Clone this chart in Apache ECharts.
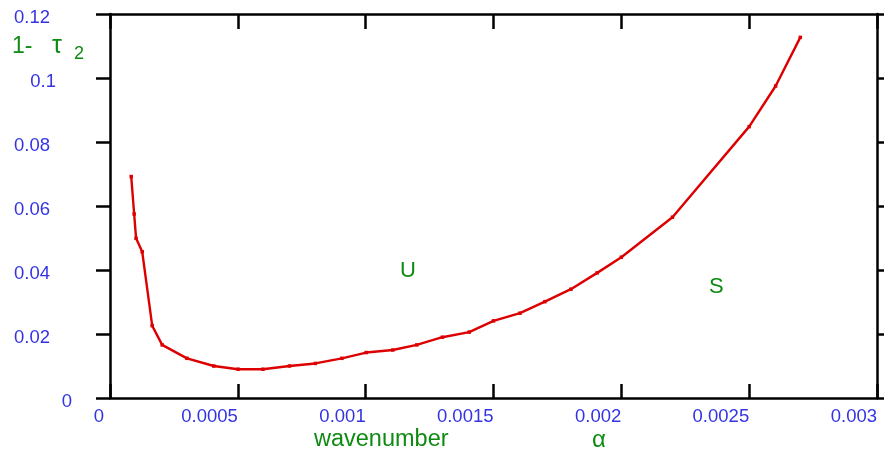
<!DOCTYPE html>
<html>
<head>
<meta charset="utf-8">
<script src="https://cdn.jsdelivr.net/npm/echarts@6/dist/echarts.min.js"></script>
<style>html,body{margin:0;padding:0;background:#fff}#c{width:884px;height:455px}</style>
</head>
<body>
<div id="c"></div>
<script>
// wavenumber alpha values
const alpha = [0.000083, 0.0000945, 0.000102, 0.000126, 0.000165, 0.000204, 0.000301, 0.000406,
  0.000501, 0.000598, 0.000702, 0.000803, 0.000907, 0.001002, 0.001106, 0.0012, 0.0013, 0.001405,
  0.0015, 0.0016035, 0.001701, 0.0018027, 0.0019055, 0.002, 0.0022, 0.0025, 0.0026035, 0.0027];
// 1 - tau_2 values
const oneMinusTau = [0.0692, 0.0575, 0.0499, 0.0457, 0.0226, 0.0166, 0.0124, 0.0100,
  0.0090, 0.0090, 0.0100, 0.0108, 0.0124, 0.0142, 0.0150, 0.0166, 0.0190, 0.0206,
  0.0241, 0.0265, 0.0301, 0.0340, 0.0391, 0.0440, 0.0565, 0.0848, 0.0975, 0.1127];
const xTickLabels = ['0', '0.0005', '0.001', '0.0015', '0.002', '0.0025', '0.003'];
const yTickLabels = ['0', '0.02', '0.04', '0.06', '0.08', '0.1', '0.12'];

const FONT = '"Liberation Sans", Arial, Helvetica, sans-serif';
const BLUE = '#3434e2';
const GREEN = '#0f8a12';
const RED = '#dd0000';

const points = alpha.map((a, i) => [a, oneMinusTau[i]]);

const chart = echarts.init(document.getElementById('c'), null, {renderer: 'canvas'});
const axisLine = {show: true, onZero: false, lineStyle: {color: '#000', width: 2.5}};
const tickStyle = {color: '#000', width: 2.5};

chart.setOption({
  animation: false,
  backgroundColor: '#fff',
  grid: {left: 110, right: 7, top: 14, bottom: 57, containLabel: false},
  xAxis: [
    {
      type: 'value', position: 'bottom', min: 0, max: 0.003, interval: 0.0005,
      axisLine: axisLine,
      axisTick: {show: true, inside: true, length: 14, lineStyle: tickStyle},
      splitLine: {show: false},
      axisLabel: {
        show: true, margin: 9, align: 'right',
        color: BLUE, fontSize: 18.5, fontFamily: FONT,
        formatter: (v, i) => {
          const t = xTickLabels[i];
          return t === '0' ? '{z|' + t + '}' : '{n|' + t + '}';
        },
        rich: {
          n: {color: BLUE, fontSize: 18.5, fontFamily: FONT},
          z: {color: BLUE, fontSize: 18.5, fontFamily: FONT, padding: [0, 6, 0, 0]}
        }
      }
    },
    {
      type: 'value', position: 'top', min: 0, max: 0.003, interval: 0.0005,
      axisLine: axisLine,
      axisTick: {show: true, inside: true, length: 15, lineStyle: tickStyle},
      splitLine: {show: false},
      axisLabel: {show: false}
    }
  ],
  yAxis: [
    {
      type: 'value', position: 'left', min: 0, max: 0.12, interval: 0.02,
      axisLine: axisLine,
      axisTick: {show: true, inside: false, length: 14, lineStyle: tickStyle},
      splitLine: {show: false},
      axisLabel: {
        show: true, margin: 38, align: 'right',
        color: BLUE, fontSize: 18.5, fontFamily: FONT,
        formatter: (v, i) => {
          const t = yTickLabels[i];
          const k = t === '0' ? 'z' : (t === '0.1' ? 'o' : 'n');
          return '{' + k + '|' + t + '}';
        },
        rich: {
          n: {color: BLUE, fontSize: 18.5, fontFamily: FONT, padding: [7, 22, 0, 0]},
          o: {color: BLUE, fontSize: 18.5, fontFamily: FONT, padding: [7, 16, 0, 0]},
          z: {color: BLUE, fontSize: 18.5, fontFamily: FONT, padding: [7, 0, 0, 0]}
        }
      }
    },
    {
      type: 'value', position: 'right', min: 0, max: 0.12, interval: 0.02,
      axisLine: axisLine,
      axisTick: {show: true, inside: false, length: 10, lineStyle: tickStyle},
      splitLine: {show: false},
      axisLabel: {show: false}
    }
  ],
  series: [{
    type: 'line',
    xAxisIndex: 0, yAxisIndex: 0,
    data: points,
    symbol: 'rect', symbolSize: 3.5, showSymbol: true,
    itemStyle: {color: RED},
    lineStyle: {color: RED, width: 2.4},
    z: 5
  }],
  graphic: [
    {type: 'text', x: 12, y: 47, style: {text: '1-', fill: GREEN, font: '23px ' + FONT, verticalAlign: 'middle', align: 'left'}},
    {type: 'text', x: 52, y: 46, style: {text: 'τ', fill: GREEN, font: '25px ' + FONT, verticalAlign: 'middle', align: 'left'}},
    {type: 'text', x: 74, y: 54, style: {text: '2', fill: GREEN, font: '18px ' + FONT, verticalAlign: 'middle', align: 'left'}},
    {type: 'text', x: 314, y: 440, style: {text: 'wavenumber', fill: GREEN, font: '23.5px ' + FONT, verticalAlign: 'middle', align: 'left'}},
    {type: 'text', x: 592, y: 440, style: {text: 'α', fill: GREEN, font: '24px ' + FONT, verticalAlign: 'middle', align: 'left'}},
    {type: 'text', x: 400, y: 271, style: {text: 'U', fill: GREEN, font: '22px ' + FONT, verticalAlign: 'middle', align: 'left'}},
    {type: 'text', x: 709, y: 287, style: {text: 'S', fill: GREEN, font: '22px ' + FONT, verticalAlign: 'middle', align: 'left'}}
  ]
});
</script>
</body>
</html>
